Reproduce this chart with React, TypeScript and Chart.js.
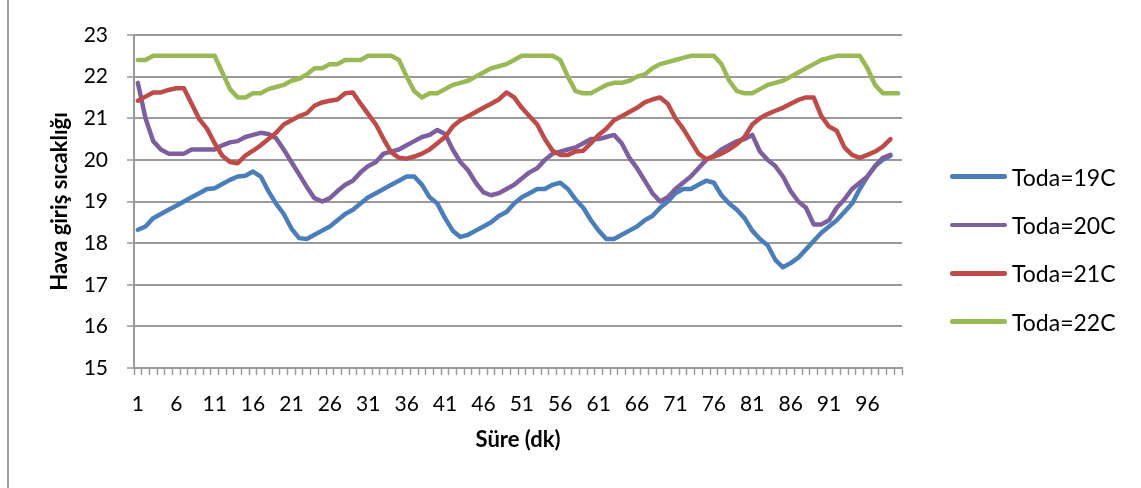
import React, { useEffect, useRef } from "react";
import { Chart, registerables } from "chart.js";

Chart.register(...registerables);

const minutes = [
  "1", "2", "3", "4", "5", "6", "7", "8", "9", "10",
  "11", "12", "13", "14", "15", "16", "17", "18", "19", "20",
  "21", "22", "23", "24", "25", "26", "27", "28", "29", "30",
  "31", "32", "33", "34", "35", "36", "37", "38", "39", "40",
  "41", "42", "43", "44", "45", "46", "47", "48", "49", "50",
  "51", "52", "53", "54", "55", "56", "57", "58", "59", "60",
  "61", "62", "63", "64", "65", "66", "67", "68", "69", "70",
  "71", "72", "73", "74", "75", "76", "77", "78", "79", "80",
  "81", "82", "83", "84", "85", "86", "87", "88", "89", "90",
  "91", "92", "93", "94", "95", "96", "97", "98", "99", "100",
];

const toda19 = [
  18.32, 18.4, 18.6, 18.7, 18.8, 18.9, 19.0, 19.1, 19.2, 19.3,
  19.32, 19.42, 19.52, 19.6, 19.62, 19.72, 19.6, 19.25, 18.95, 18.7,
  18.35, 18.12, 18.1, 18.2, 18.3, 18.4, 18.55, 18.7, 18.8, 18.95,
  19.1, 19.2, 19.3, 19.4, 19.5, 19.6, 19.6, 19.4, 19.1, 18.95,
  18.6, 18.3, 18.15, 18.2, 18.3, 18.4, 18.5, 18.65, 18.75, 18.95,
  19.1, 19.2, 19.3, 19.3, 19.4, 19.45, 19.3, 19.05, 18.85, 18.55,
  18.3, 18.1, 18.1, 18.2, 18.3, 18.4, 18.55, 18.65, 18.85, 19.0,
  19.2, 19.3, 19.3, 19.4, 19.5, 19.45, 19.15, 18.95, 18.8, 18.6,
  18.3, 18.1, 17.95, 17.6, 17.42, 17.52, 17.65, 17.85, 18.05, 18.25,
  18.4, 18.55, 18.75, 18.95, 19.3, 19.6, 19.85, 20.0, 20.1, null,
];

const toda20 = [
  21.85, 21.0, 20.45, 20.25, 20.15, 20.15, 20.15, 20.25, 20.25, 20.25,
  20.25, 20.35, 20.42, 20.45, 20.55, 20.6, 20.65, 20.62, 20.52, 20.25,
  19.95, 19.65, 19.35, 19.08, 19.0, 19.08, 19.25, 19.4, 19.5, 19.7,
  19.85, 19.95, 20.15, 20.2, 20.25, 20.35, 20.45, 20.55, 20.6, 20.72,
  20.62, 20.25, 19.95, 19.75, 19.45, 19.22, 19.15, 19.2, 19.3, 19.4,
  19.55, 19.7, 19.8, 20.0, 20.15, 20.2, 20.25, 20.3, 20.4, 20.5,
  20.5, 20.55, 20.6, 20.4, 20.05, 19.8, 19.5, 19.2, 19.0, 19.1,
  19.3, 19.45, 19.6, 19.8, 20.0, 20.1, 20.25, 20.35, 20.45, 20.5,
  20.6, 20.2, 20.0, 19.85, 19.6, 19.25, 19.0, 18.85, 18.45, 18.45,
  18.55, 18.85, 19.05, 19.3, 19.45, 19.6, 19.85, 20.05, 20.12, null,
];

const toda21 = [
  21.42, 21.52, 21.62, 21.62, 21.68, 21.72, 21.72, 21.35, 20.98, 20.75,
  20.4, 20.1, 19.95, 19.92, 20.1, 20.22, 20.35, 20.5, 20.65, 20.85,
  20.95, 21.05, 21.12, 21.3, 21.38, 21.42, 21.45, 21.6, 21.62, 21.35,
  21.1, 20.85, 20.5, 20.18, 20.05, 20.03, 20.08, 20.15, 20.25, 20.4,
  20.55, 20.8, 20.95, 21.05, 21.15, 21.25, 21.35, 21.45, 21.62, 21.5,
  21.25, 21.05, 20.85, 20.5, 20.22, 20.12, 20.12, 20.2, 20.22, 20.4,
  20.6, 20.75, 20.95, 21.05, 21.15, 21.25, 21.38, 21.45, 21.5, 21.35,
  21.0, 20.75, 20.45, 20.15, 20.02, 20.08, 20.15, 20.25, 20.38, 20.55,
  20.85, 21.0, 21.1, 21.18, 21.25, 21.35, 21.44, 21.5, 21.5, 21.05,
  20.8, 20.7, 20.3, 20.12, 20.05, 20.12, 20.2, 20.32, 20.5, null,
];

const toda22 = [
  22.4, 22.4, 22.5, 22.5, 22.5, 22.5, 22.5, 22.5, 22.5, 22.5,
  22.5, 22.1, 21.7, 21.5, 21.5, 21.6, 21.6, 21.7, 21.75, 21.8,
  21.9, 21.95, 22.05, 22.2, 22.2, 22.3, 22.3, 22.4, 22.4, 22.4,
  22.5, 22.5, 22.5, 22.5, 22.4, 22.0, 21.65, 21.5, 21.6, 21.6,
  21.7, 21.8, 21.85, 21.9, 22.0, 22.1, 22.2, 22.25, 22.3, 22.4,
  22.5, 22.5, 22.5, 22.5, 22.5, 22.4, 22.0, 21.65, 21.6, 21.6,
  21.7, 21.8, 21.85, 21.85, 21.9, 22.0, 22.05, 22.2, 22.3, 22.35,
  22.4, 22.45, 22.5, 22.5, 22.5, 22.5, 22.3, 21.9, 21.65, 21.6,
  21.6, 21.7, 21.8, 21.85, 21.9, 22.0, 22.1, 22.2, 22.3, 22.4,
  22.45, 22.5, 22.5, 22.5, 22.5, 22.2, 21.8, 21.6, 21.6, 21.6,
];

const seriesNames = ["Toda=19C", "Toda=20C", "Toda=21C", "Toda=22C"];
const seriesColors = ["#4A7EBB", "#7D5FA0", "#BE4B48", "#98B954"];
const yTitle = "Hava giriş sıcaklığı";
const xTitle = "Süre (dk)";

const GRID = "#9a9a9a";
const FONT = "Lato, 'Noto Sans', sans-serif";

export default function App() {
  const ref = useRef<HTMLCanvasElement | null>(null);

  useEffect(() => {
    if (!ref.current) return;
    const all = [toda19, toda20, toda21, toda22];
    const chart = new Chart(ref.current, {
      type: "line",
      data: {
        labels: minutes,
        datasets: all.map((d, i) => ({
          label: seriesNames[i],
          data: d,
          borderColor: seriesColors[i],
          backgroundColor: seriesColors[i],
          order: 4 - i,
        })),
      },
      options: {
        responsive: false,
        animation: false,
        devicePixelRatio: 1,
        layout: { padding: { left: 47, top: 35, right: 239, bottom: 35 } },
        plugins: { legend: { display: false }, tooltip: { enabled: false } },
        elements: {
          point: { radius: 0, hoverRadius: 0 },
          line: {
            borderWidth: 4.5,
            tension: 0,
            borderCapStyle: "round",
            borderJoinStyle: "round",
            fill: false,
          },
        },
        scales: {
          x: {
            type: "category",
            offset: true,
            grid: {
              display: true,
              drawOnChartArea: false,
              drawTicks: true,
              tickLength: 7,
              offset: true,
              tickColor: GRID,
              tickWidth: 1.5,
            },
            border: { display: true, color: GRID, width: 2 },
            ticks: {
              autoSkip: false,
              maxRotation: 0,
              minRotation: 0,
              padding: 17,
              color: "#000",
              font: { family: FONT, size: 21 },
              callback: (_v: any, i: number) => (i % 5 === 0 ? minutes[i] : ""),
            },
            title: {
              display: true,
              text: xTitle,
              color: "#000",
              font: { family: FONT, size: 22, weight: "bold" },
              padding: 0,
            },
            afterFit: (s: any) => {
              s.height = 85;
            },
          },
          y: {
            min: 15,
            max: 23,
            grid: {
              color: GRID,
              lineWidth: 2,
              drawTicks: true,
              tickLength: 7,
              tickColor: GRID,
              tickWidth: 1.5,
            },
            border: { display: true, color: GRID, width: 2 },
            ticks: {
              stepSize: 1,
              padding: 19,
              color: "#000",
              font: { family: FONT, size: 21 },
            },
            title: {
              display: true,
              text: yTitle,
              color: "#000",
              font: { family: FONT, size: 22, weight: "bold" },
              padding: 0,
            },
            afterFit: (s: any) => {
              s.width = 87;
            },
          },
        },
      } as any,
    });
    return () => chart.destroy();
  }, []);

  const legendY = [176.7, 225, 273.3, 321.7];

  return (
    <div
      style={{
        position: "absolute",
        left: 0,
        top: 0,
        width: 1141,
        height: 488,
        background: "#fff",
        overflow: "hidden",
      }}
    >
      <canvas
        ref={ref}
        width={1141}
        height={488}
        style={{ position: "absolute", left: 0, top: 0, width: 1141, height: 488 }}
      />
      <div
        style={{
          position: "absolute",
          left: 7,
          top: 0,
          width: 2,
          height: 488,
          background: "#a0a0a0",
        }}
      />
      {seriesNames.map((name, i) => (
        <div key={name}>
          <div
            style={{
              position: "absolute",
              left: 950,
              top: legendY[i] - 2.25,
              width: 57,
              height: 4.5,
              borderRadius: 2.25,
              background: seriesColors[i],
            }}
          />
          <div
            style={{
              position: "absolute",
              left: 1012,
              top: legendY[i] - 15,
              height: 30,
              lineHeight: "30px",
              fontFamily: FONT,
              fontSize: 23,
              color: "#000",
              whiteSpace: "nowrap",
            }}
          >
            {name}
          </div>
        </div>
      ))}
    </div>
  );
}
